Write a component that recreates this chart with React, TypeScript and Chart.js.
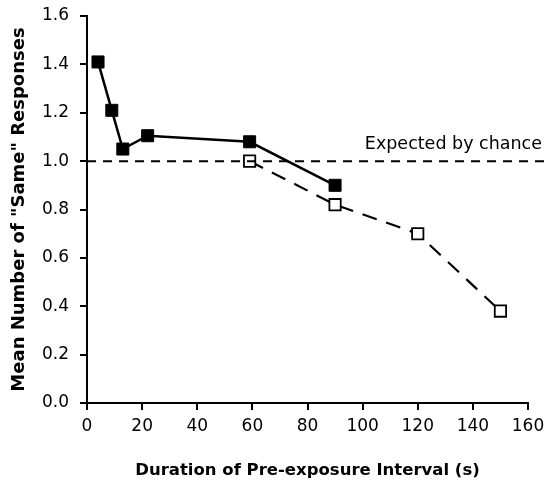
import React, { useEffect, useRef } from "react";
import { Chart, registerables } from "chart.js";

Chart.register(...registerables);

const filledX = [4, 9, 13, 22, 59, 90];
const filledY = [1.41, 1.21, 1.05, 1.105, 1.08, 0.9];
const openX = [59, 90, 120, 150];
const openY = [1.0, 0.82, 0.7, 0.38];
const chanceX = [0, 167];
const chanceY = [1.0, 1.0];
const chanceLabel = "Expected by chance";
const xTitle = "Duration of Pre-exposure Interval (s)";
const yTitle = 'Mean Number of "Same" Responses';

const FONT = "'DejaVu Sans', 'Liberation Sans', Arial, sans-serif";

const labelPlugin = {
  id: "chanceLabel",
  afterDatasetsDraw(chart: any) {
    const { ctx, scales } = chart;
    const x = scales.x.getPixelForValue(160) + 14;
    const y = scales.y.getPixelForValue(1.0) - 12;
    ctx.save();
    ctx.font = `17.5px ${FONT}`;
    ctx.fillStyle = "#000";
    ctx.textAlign = "right";
    ctx.textBaseline = "alphabetic";
    ctx.fillText(chanceLabel, x, y);
    ctx.restore();
  },
};

export default function App() {
  const ref = useRef<HTMLCanvasElement>(null);
  useEffect(() => {
    document.body.style.margin = "0";
    const chart = new Chart(ref.current!, {
      type: "scatter",
      data: {
        datasets: [
          {
            data: chanceX.map((x, i) => ({ x, y: chanceY[i] })),
            showLine: true,
            clip: false,
            borderColor: "#000",
            borderWidth: 2,
            borderDash: [9, 7],
            pointRadius: 0,
          },
          {
            data: openX.map((x, i) => ({ x, y: openY[i] })),
            showLine: true,
            borderColor: "#000",
            borderWidth: 2.2,
            borderDash: [15, 10],
            pointStyle: "rect",
            pointRadius: 8,
            pointBackgroundColor: "#fff",
            pointBorderColor: "#000",
            pointBorderWidth: 1.8,
          },
          {
            data: filledX.map((x, i) => ({ x, y: filledY[i] })),
            showLine: true,
            borderColor: "#000",
            borderWidth: 2.5,
            pointStyle: "rect",
            pointRadius: 8.5,
            pointBackgroundColor: "#000",
            pointBorderColor: "#000",
            pointBorderWidth: 1,
          },
        ],
      },
      options: {
        animation: false,
        responsive: false,
        layout: { padding: { left: 0, top: 16, right: 21, bottom: 0 } },
        plugins: { legend: { display: false }, tooltip: { enabled: false } },
        scales: {
          x: {
            type: "linear",
            min: 0,
            max: 160,
            afterFit: (s: any) => {
              s.height = 82;
              s.paddingLeft = 0;
              s.paddingRight = 0;
            },
            ticks: {
              stepSize: 20,
              color: "#000",
              font: { family: FONT, size: 17 },
              padding: 6,
            },
            grid: {
              drawOnChartArea: false,
              drawTicks: true,
              tickLength: 7,
              color: "#000",
              lineWidth: 2,
            },
            border: { color: "#000", width: 2 },
            title: {
              display: true,
              text: xTitle,
              color: "#000",
              font: { family: FONT, size: 16.5, weight: "bold" },
              padding: { top: 10 },
            },
          },
          y: {
            type: "linear",
            min: 0,
            max: 1.6,
            afterFit: (s: any) => {
              s.width = 87;
              s.paddingTop = 0;
              s.paddingBottom = 0;
            },
            ticks: {
              stepSize: 0.2,
              color: "#000",
              font: { family: FONT, size: 17 },
              padding: 11,
              callback: (v: any) => Number(v).toFixed(1),
            },
            grid: {
              drawOnChartArea: false,
              drawTicks: true,
              tickLength: 7,
              color: "#000",
              lineWidth: 2,
            },
            border: { color: "#000", width: 2 },
            title: {
              display: true,
              text: yTitle,
              color: "#000",
              font: { family: FONT, size: 18, weight: "bold" },
              padding: { top: 9, bottom: 4 },
            },
          },
        },
      },
      plugins: [labelPlugin],
    } as any);
    return () => chart.destroy();
  }, []);
  return (
    <div style={{ position: "absolute", left: 0, top: 0, width: 549, height: 485, background: "#fff" }}>
      <canvas ref={ref} width={549} height={485} />
    </div>
  );
}
